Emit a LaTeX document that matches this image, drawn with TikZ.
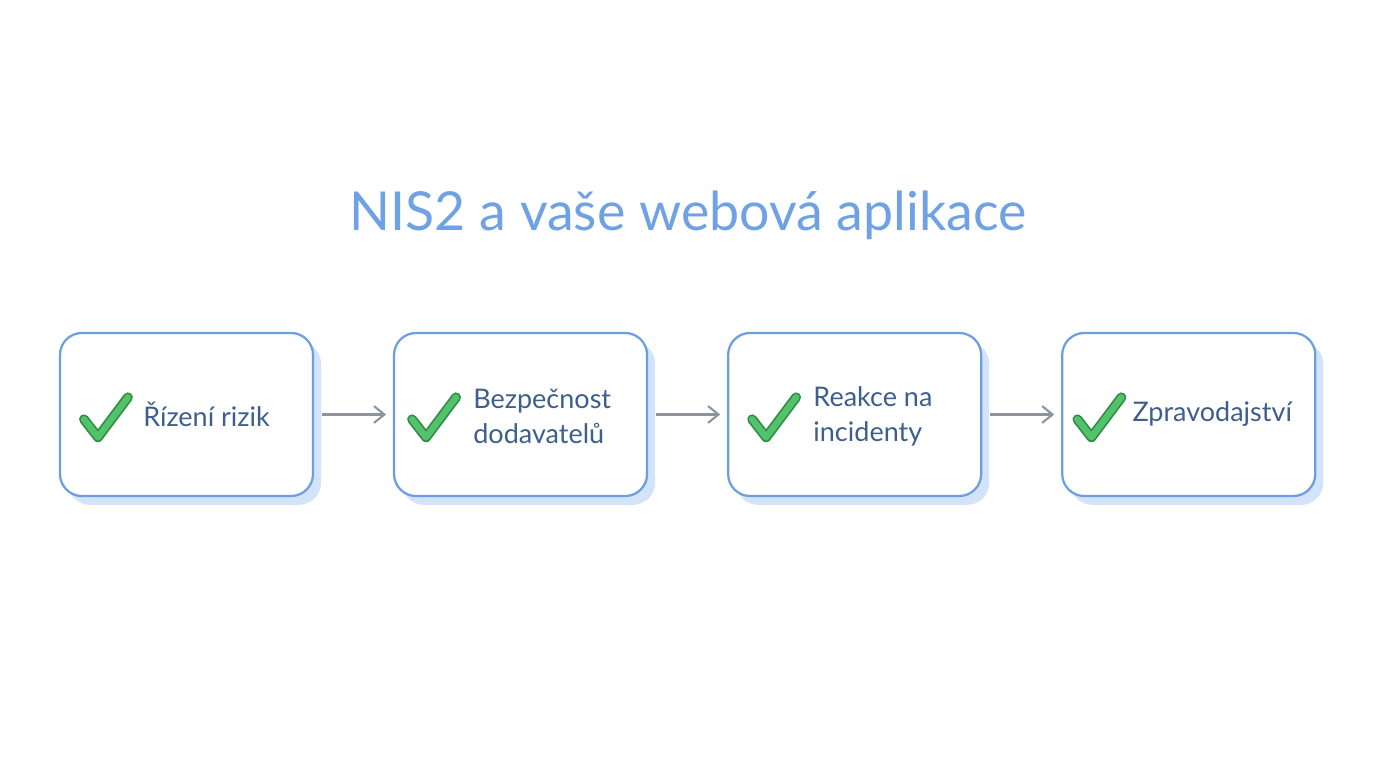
\documentclass[tikz,border=0pt]{standalone}
\usepackage{fontspec}
\setmainfont{Lato}
\usetikzlibrary{arrows.meta, positioning, shadows}
\definecolor{ramec}{HTML}{6C9FE0}
\definecolor{stin}{HTML}{D3E3FA}
\definecolor{nadpisbarva}{HTML}{6FA2E4}
\definecolor{textbarva}{HTML}{3E5F8E}
\definecolor{sipkabarva}{HTML}{8D949D}
\definecolor{zelena}{HTML}{52C26B}
\definecolor{tmavezelena}{HTML}{2F8C46}
\tikzset{%
	krok/.style={draw=ramec, line width=1.6pt, rectangle, rounded corners=0.55cm,%
		minimum width=6.325cm, minimum height=4.075cm, fill=white, outer sep=0pt,%
		drop shadow={shadow xshift=0.2cm, shadow yshift=-0.22cm, fill=stin, opacity=1}},
	popis/.style={anchor=west, inner sep=0pt, align=left, text=textbarva,%
		font=\fontsize{19.2}{24.5}\selectfont},
	sipka/.style={-{Straight Barb[length=0.26cm, width=0.42cm, line width=1.5pt]},%
		draw=sipkabarva, line width=1.5pt, shorten <=0.22cm, shorten >=0.2cm},
	fajfka/.pic={
		\draw[tmavezelena, line width=7pt, line cap=round, line join=round]
			(0,0) -- (14,18) -- (44,-22);
		\draw[zelena, line width=4.6pt, line cap=round, line join=round]
			(0,0) -- (14,18) -- (44,-22);
	}
}

\begin{document}
\begin{tikzpicture}[x=0.025cm, y=-0.025cm]
	\useasboundingbox[fill=white] (0,0) rectangle (1376,768);

	\node[text=nadpisbarva, font=\fontsize{38.2}{42}\selectfont] (nadpis) at (688,215) {NIS2 a vaše webová aplikace};

	\node[krok] (riziko) at (186.5,414.5) {};
	\node[krok, right=2.025cm of riziko] (dodavatele) {};
	\node[krok, right=2.025cm of dodavatele] (incidenty) {};
	\node[krok, right=2.025cm of incidenty] (zpravy) {};

	\pic at ([xshift=0.6cm, yshift=-0.12cm]riziko.west) {fajfka};
	\pic at ([xshift=0.45cm, yshift=-0.12cm]dodavatele.west) {fajfka};
	\pic at ([xshift=0.6cm, yshift=-0.12cm]incidenty.west) {fajfka};
	\pic at ([xshift=0.38cm, yshift=-0.12cm]zpravy.west) {fajfka};

	\node[popis] (t1) at ([xshift=2.075cm]riziko.west) {Řízení rizik};
	\node[popis] (t2) at ([xshift=1.975cm, yshift=-0.05cm]dodavatele.west) {Bezpečnost\\dodavatelů};
	\node[popis] (t3) at ([xshift=2.125cm, yshift=-0.05cm]incidenty.west) {Reakce na\\incidenty};
	\node[popis] (t4) at ([xshift=1.75cm]zpravy.west) {Zpravodajství};

	\draw[sipka] (riziko) -- (dodavatele);
	\draw[sipka] (dodavatele) -- (incidenty);
	\draw[sipka] (incidenty) -- (zpravy);
\end{tikzpicture}
\end{document}
